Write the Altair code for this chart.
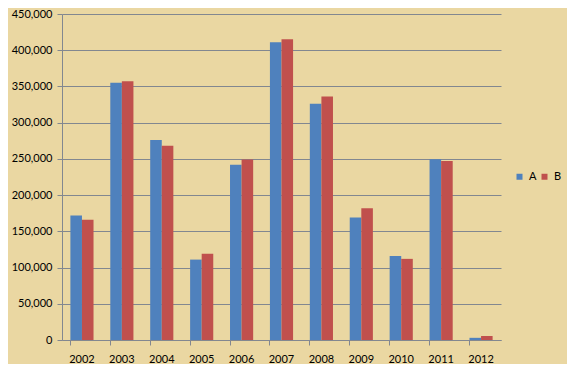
import altair as alt
import pandas as pd

years = ["2002", "2003", "2004", "2005", "2006", "2007", "2008", "2009", "2010", "2011", "2012"]
series_a = [172000, 355000, 276000, 111000, 242000, 411000, 326000, 169000, 116000, 249500, 3000]
series_b = [166000, 357000, 268000, 119000, 249000, 415000, 336000, 182000, 112000, 247000, 5500]
series_names = ["A", "B"]
colors = ["#4F81BD", "#C0504D"]

rows = []
for i, y in enumerate(years):
    rows.append({"year": y, "series": "A", "value": series_a[i]})
    rows.append({"year": y, "series": "B", "value": series_b[i]})
df = pd.DataFrame(rows)

FONT = "Lato"
GRID = "#828790"

chart = alt.Chart(df).mark_bar().encode(
    x=alt.X("year:N", sort=years, title=None,
            scale=alt.Scale(paddingInner=0.42, paddingOuter=0.21),
            axis=alt.Axis(labelAngle=0, bandPosition=0, tickSize=5, tickColor=GRID,
                          domainColor=GRID, labelFontSize=11, labelColor="#000000",
                          labelFont=FONT, labelPadding=8, grid=False,
                          labelAlign="center")),
    xOffset=alt.XOffset("series:N", sort=series_names),
    y=alt.Y("value:Q", title=None,
            scale=alt.Scale(domain=[0, 450000], nice=False),
            axis=alt.Axis(values=list(range(0, 450001, 50000)), format=",.0f",
                          tickSize=5, tickColor=GRID, domainColor=GRID,
                          gridColor=GRID, gridWidth=1, labelFontSize=11,
                          labelColor="#000000", labelFont=FONT, labelPadding=5)),
    color=alt.Color("series:N", sort=series_names,
                    scale=alt.Scale(domain=series_names, range=colors),
                    legend=alt.Legend(title=None, orient="none", legendX=452, legendY=157,
                                      direction="horizontal", symbolType="square",
                                      symbolSize=36, symbolStrokeWidth=0,
                                      labelFontSize=11, labelFont=FONT, labelColor="#000000",
                                      columnPadding=2, labelOffset=4, padding=0)),
).properties(
    width=439,
    height=326,
    autosize=alt.AutoSizeParams(type="none"),
    padding={"left": 54, "top": 6, "right": 66, "bottom": 24},
    background="#EAD7A2",
).configure_view(
    stroke=None,
)

chart.save("out.html", embed_options={"renderer": "svg", "actions": False})
